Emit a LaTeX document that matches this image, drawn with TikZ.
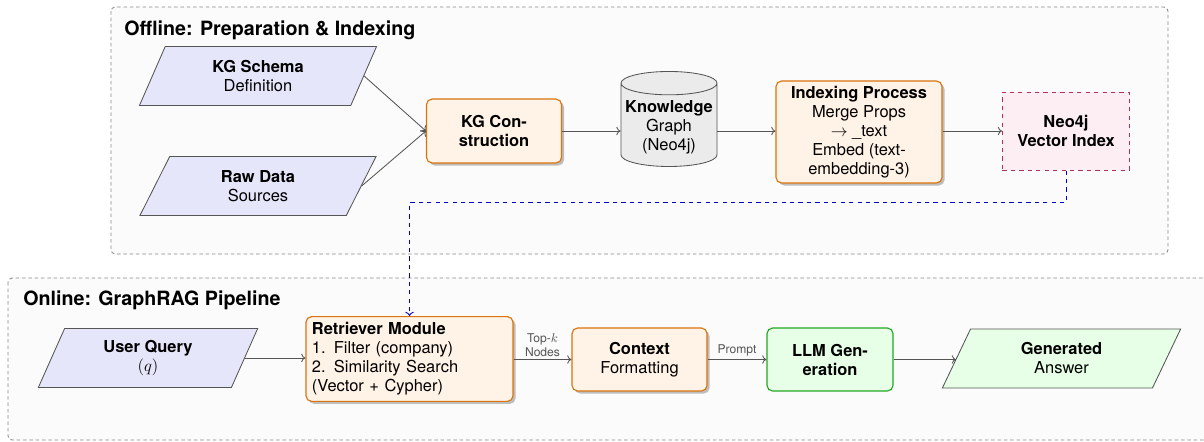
\documentclass[tikz,border=0pt]{standalone}
\usepackage{fontspec}
\setmainfont{TeX Gyre Heros}
\usetikzlibrary{arrows.meta,positioning,shapes.geometric,shadows}
\definecolor{linegray}{HTML}{555555}
\definecolor{panelline}{HTML}{888888}
\definecolor{panelfill}{HTML}{FBFBFB}
\definecolor{datafill}{HTML}{E6E6FA}
\definecolor{procline}{HTML}{D9730D}
\definecolor{procfill}{HTML}{FFF2E6}
\definecolor{genline}{HTML}{22A822}
\definecolor{genfill}{HTML}{E6FFE6}
\definecolor{idxline}{HTML}{B0305A}
\definecolor{idxfill}{HTML}{FCEEF3}
\definecolor{dbfill}{HTML}{EBEBEB}
\definecolor{linkblue}{HTML}{0000CC}
\newcommand{\ArrTip}{To[length=3pt,width=6pt]}
\newcommand{\nodefont}{\fontsize{11.7}{13.5}\selectfont}
\tikzset{
  base/.style={font=\nodefont, align=center, inner sep=2pt},
  panel/.style={draw=panelline, fill=panelfill, dash pattern=on 2.5pt off 2pt, rounded corners=3pt, line width=0.6pt},
  paneltitle/.style={font=\fontsize{14}{17}\selectfont\bfseries, inner sep=0pt, anchor=base west},
  databox/.style={base, trapezium, trapezium left angle=70, trapezium right angle=110, trapezium stretches=true,
    draw=linegray, fill=datafill, semithick, minimum height=1.475cm},
  procbox/.style={base, rectangle, rounded corners=4pt, draw=procline, fill=procfill, line width=0.8pt,
    drop shadow={shadow xshift=1.8pt, shadow yshift=-1.8pt, fill=black!45, opacity=0.55}},
  genbox/.style={base, rectangle, rounded corners=4pt, draw=genline, fill=genfill, line width=0.8pt},
  dbbox/.style={base, cylinder, shape border rotate=90, aspect=0.25, draw=linegray, fill=dbfill, semithick},
  indexbox/.style={base, rectangle, draw=idxline, fill=idxfill, dashed, line width=0.7pt},
  arr/.style={-{\ArrTip}, draw=linegray, semithick},
  bluelink/.style={-{\ArrTip}, draw=linkblue, dashed, semithick},
  edgelabel/.style={font=\fontsize{8.6}{10}\selectfont, text=linegray, align=center, inner sep=2pt}
}
\begin{document}
\begin{tikzpicture}[x=0.025cm,y=-0.025cm]
\useasboundingbox (0,0) rectangle (1204,441);
% offline part
\draw[panel] (111,7) rectangle (1168,254);
\node[paneltitle] (offtitle) at (124,35) {Offline: Preparation \& Indexing};
\node[databox, minimum width=5.95cm] (schema) at (258,76) {\textbf{KG Schema}\\Definition};
\node[databox, minimum width=5.95cm] (raw) at (258,186) {\textbf{Raw Data}\\Sources};
\node[procbox, minimum width=3.375cm, minimum height=1.6cm] (kgc) at (494,131) {\textbf{KG Con-}\\\textbf{struction}};
\node[dbbox, minimum width=2.4cm, minimum height=2.375cm] (kg) at (669,127) {\textbf{Knowledge}\\Graph\\(Neo4j)};
\node[procbox, minimum width=4.15cm, minimum height=2.55cm] (idx) at (859,132)
  {\textbf{Indexing Process}\\Merge Props\\$\rightarrow$ \_text\\Embed (text-\\embedding-3)};
\node[indexbox, minimum width=3.175cm, minimum height=1.95cm] (vec) at (1066,131) {\textbf{Neo4j}\\\textbf{Vector Index}};
\draw[arr] (schema.east) -- (kgc.west);\draw[arr] (raw.east) -- (kgc.west);
\draw[arr] (kgc.east) -- (kgc.east -| kg.west);
\draw[arr] (kg.east |- kgc.east) -- (kgc.east -| idx.west);
\draw[arr] (idx.east |- vec.west) -- (vec.west);
% online part
\draw[panel] (8,278) rectangle (1214,440);
\node[paneltitle] (ontitle) at (23,305) {Online: GraphRAG Pipeline};
\node[databox, minimum width=5.525cm] (query) at (148,358) {\textbf{User Query}\\$(q)$};
\node[procbox, minimum width=5.175cm, minimum height=2.05cm, text width=4.875cm, align=left, inner sep=0.15cm] (ret) at (409.5,359)
  {\textbf{Retriever Module}\\1. Filter (company)\\2. Similarity Search\\(Vector + Cypher)};
\node[procbox, minimum width=3.375cm, minimum height=1.575cm] (ctx) at (639.5,359.5) {\textbf{Context}\\Formatting};
\node[genbox, minimum width=3.15cm, minimum height=1.575cm] (llm) at (830,359.5) {\textbf{LLM Gen-}\\\textbf{eration}};
\node[databox, minimum width=5.975cm, fill=genfill] (ans) at (1061.5,358.5) {\textbf{Generated}\\Answer};
\draw[arr] (query.east) -- (query.east -| ret.west);
\draw[arr] (ret.east |- ctx.west) -- node[edgelabel, above] {Top-$k$\\Nodes} (ctx.west);
\draw[arr] (ctx) -- node[edgelabel, above] {Prompt} (llm);
\draw[arr] (llm) -- (llm -| ans.west);
% link between the two parts
\draw[bluelink] (vec.south) -- ++(0,32) -| (ret.north);
\end{tikzpicture}
\end{document}
